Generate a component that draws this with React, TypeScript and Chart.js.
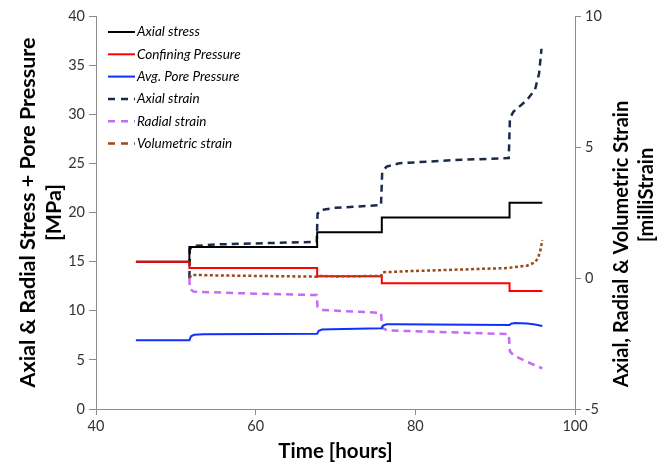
import { useEffect, useRef } from "react";
import { Chart, registerables } from "chart.js";

Chart.register(...registerables);

// ---- data ----
const xTickValues = [40, 60, 80, 100];
const leftTickValues = [0, 5, 10, 15, 20, 25, 30, 35, 40];
const rightTickValues = [-5, 0, 5, 10];

const seriesLabels = [
  "Axial stress",
  "Confining Pressure",
  "Avg. Pore Pressure",
  "Axial strain",
  "Radial strain",
  "Volumetric strain",
];

const axialStressT = [45.0, 51.7, 51.7, 67.7, 67.7, 75.8, 75.8, 91.8, 91.8, 95.9];
const axialStressV = [15.0, 15.0, 16.5, 16.5, 18.0, 18.0, 19.5, 19.5, 21.0, 21.0];

const confiningT = [45.0, 51.7, 51.7, 67.7, 67.7, 75.8, 75.8, 91.8, 91.8, 95.9];
const confiningV = [15.0, 15.0, 14.35, 14.35, 13.5, 13.5, 12.8, 12.8, 12.0, 12.0];

const poreT = [45.0, 51.7, 51.9, 52.3, 53.5, 67.7, 67.9, 68.3, 69.5, 75.8, 75.95, 76.4, 77.5, 91.8, 92.0, 92.5, 94.0, 95.0, 95.9];
const poreV = [7.0, 7.0, 7.4, 7.55, 7.6, 7.65, 7.95, 8.08, 8.12, 8.22, 8.5, 8.62, 8.62, 8.55, 8.68, 8.75, 8.7, 8.6, 8.45];

const axialStrainT = [51.7, 51.75, 52.2, 55, 60, 67.65, 67.75, 68.2, 70, 75.7, 75.85, 76.4, 78, 85, 91.7, 91.85, 92.3, 94.0, 95.0, 95.5, 95.8];
const axialStrainV = [0.0, 1.1, 1.22, 1.28, 1.32, 1.38, 2.45, 2.6, 2.68, 2.78, 4.05, 4.25, 4.38, 4.5, 4.58, 6.1, 6.35, 6.8, 7.2, 7.8, 8.75];

const radialStrainT = [51.7, 51.75, 52.2, 60, 67.65, 67.75, 68.3, 75.7, 75.85, 76.5, 91.7, 91.85, 92.3, 94.0, 95.9];
const radialStrainV = [0.0, -0.4, -0.52, -0.6, -0.65, -1.1, -1.22, -1.33, -1.9, -2.0, -2.14, -2.8, -2.95, -3.2, -3.45];

const volStrainT = [51.7, 52.0, 55, 60, 67.7, 67.8, 70, 75.7, 75.9, 80, 91.7, 92.0, 94.0, 95.0, 95.4, 95.7, 95.9];
const volStrainV = [0.0, 0.12, 0.1, 0.08, 0.05, 0.08, 0.06, 0.08, 0.22, 0.27, 0.38, 0.4, 0.47, 0.6, 0.78, 1.1, 1.45];

const toPts = (t: number[], v: number[]) => t.map((x, i) => ({ x, y: v[i] }));

const FONT = "Lato, 'Open Sans', sans-serif";

const insideLegend = {
  id: "insideLegend",
  afterDraw(chart: any, _args: any, opts: any) {
    const ctx = chart.ctx as CanvasRenderingContext2D;
    ctx.save();
    chart.data.datasets.forEach((ds: any, i: number) => {
      const y = opts.y0 + i * opts.dy;
      ctx.beginPath();
      ctx.strokeStyle = ds.borderColor;
      ctx.lineWidth = ds.borderWidth;
      ctx.setLineDash(ds.legendDash || []);
      ctx.moveTo(opts.x0, y);
      ctx.lineTo(opts.x1, y);
      ctx.stroke();
      ctx.setLineDash([]);
      ctx.fillStyle = "#000";
      ctx.font = opts.font;
      ctx.textAlign = "left";
      ctx.textBaseline = "middle";
      ctx.fillText(ds.label, opts.x1 + 2, y);
    });
    ctx.restore();
  },
};

const rightTitle = {
  id: "rightTitle",
  afterDraw(chart: any, _args: any, opts: any) {
    const ctx = chart.ctx as CanvasRenderingContext2D;
    ctx.save();
    ctx.fillStyle = "#000";
    ctx.font = opts.font;
    ctx.textAlign = "center";
    ctx.textBaseline = "middle";
    opts.lines.forEach((ln: any) => {
      ctx.save();
      ctx.translate(ln.x, ln.y);
      ctx.rotate(-Math.PI / 2);
      ctx.fillText(ln.text, 0, 0);
      ctx.restore();
    });
    ctx.restore();
  },
};

export default function App() {
  const ref = useRef<HTMLCanvasElement>(null);

  useEffect(() => {
    if (!ref.current) return;
    const axisColor = "#8c8c8c";
    const tickFont = { family: FONT, size: 14.5 };
    const chart = new Chart(ref.current, {
      type: "line",
      data: {
        datasets: [
          {
            label: seriesLabels[0],
            data: toPts(axialStressT, axialStressV),
            borderColor: "#000000",
            borderWidth: 2,
            yAxisID: "y",
            order: 2,
          },
          {
            label: seriesLabels[1],
            data: toPts(confiningT, confiningV),
            borderColor: "#ff0000",
            borderWidth: 2,
            yAxisID: "y",
            order: 1,
          },
          {
            label: seriesLabels[2],
            data: toPts(poreT, poreV),
            borderColor: "#1030ff",
            borderWidth: 2,
            yAxisID: "y",
            order: 1,
          },
          {
            label: seriesLabels[3],
            data: toPts(axialStrainT, axialStrainV),
            borderColor: "#1c2a4a",
            borderWidth: 2.5,
            borderDash: [7, 5],
            legendDash: [7, 6],
            yAxisID: "y2",
            order: 3,
          },
          {
            label: seriesLabels[4],
            data: toPts(radialStrainT, radialStrainV),
            borderColor: "#c46cf2",
            borderWidth: 2.5,
            borderDash: [7, 5],
            legendDash: [7, 6],
            yAxisID: "y2",
            order: 3,
          },
          {
            label: seriesLabels[5],
            data: toPts(volStrainT, volStrainV),
            borderColor: "#9a4a1c",
            borderWidth: 2.5,
            borderDash: [3, 2.5],
            legendDash: [7, 6],
            yAxisID: "y2",
            order: 0,
          },
        ] as any,
      },
      options: {
        animation: false,
        responsive: true,
        maintainAspectRatio: false,
        layout: { padding: { top: 16, left: 0, right: 0, bottom: 0 } },
        elements: { point: { radius: 0 }, line: { tension: 0 } },
        plugins: {
          legend: { display: false },
          tooltip: { enabled: false },
          insideLegend: { x0: 108, x1: 135, y0: 32, dy: 22.3, font: `italic 13.5px ${FONT}` },
          rightTitle: {
            font: `bold 20px ${FONT}`,
            lines: [
              { text: "Axial, Radial & Volumetric Strain", x: 622, y: 244 },
              { text: "[milliStrain", x: 647, y: 195 },
            ],
          },
        } as any,
        scales: {
          x: {
            type: "linear",
            min: 40,
            max: 100,
            afterBuildTicks: (s: any) => {
              s.ticks = xTickValues.map((v) => ({ value: v }));
            },
            afterFit: (s: any) => {
              s.height = 56;
            },
            grid: { drawOnChartArea: false, drawTicks: true, tickLength: 6, color: axisColor },
            border: { color: axisColor, width: 1 },
            ticks: { font: tickFont, color: "#333", padding: 3, maxRotation: 0 },
            title: {
              display: true,
              text: "Time [hours]",
              font: { family: FONT, size: 20.5, weight: "bold" },
              color: "#000",
              padding: { top: 0, bottom: 1 },
            },
          },
          y: {
            type: "linear",
            position: "left",
            min: 0,
            max: 40,
            afterBuildTicks: (s: any) => {
              s.ticks = leftTickValues.map((v) => ({ value: v }));
            },
            afterFit: (s: any) => {
              s.width = 96;
            },
            grid: { drawOnChartArea: false, drawTicks: true, tickLength: 7, color: axisColor },
            border: { color: axisColor, width: 1 },
            ticks: { font: tickFont, color: "#333", padding: 4 },
            title: {
              display: true,
              text: ["Axial & Radial Stress + Pore Pressure", "[MPa]"],
              font: { family: FONT, size: 21.5, weight: "bold", lineHeight: 1.2 },
              color: "#000",
              padding: { top: 15, bottom: 0 },
            },
          },
          y2: {
            type: "linear",
            position: "right",
            min: -5,
            max: 10,
            afterBuildTicks: (s: any) => {
              s.ticks = rightTickValues.map((v) => ({ value: v }));
            },
            afterFit: (s: any) => {
              s.width = 87;
            },
            grid: { drawOnChartArea: false, drawTicks: true, tickLength: 6, color: axisColor },
            border: { color: axisColor, width: 1 },
            ticks: { font: tickFont, color: "#333", padding: 4 },
          },
        },
      },
      plugins: [insideLegend, rightTitle],
    });
    return () => chart.destroy();
  }, []);

  return (
    <div style={{ position: "absolute", left: 0, top: 0, width: 662, height: 465, background: "#fff" }}>
      <canvas ref={ref} />
    </div>
  );
}
